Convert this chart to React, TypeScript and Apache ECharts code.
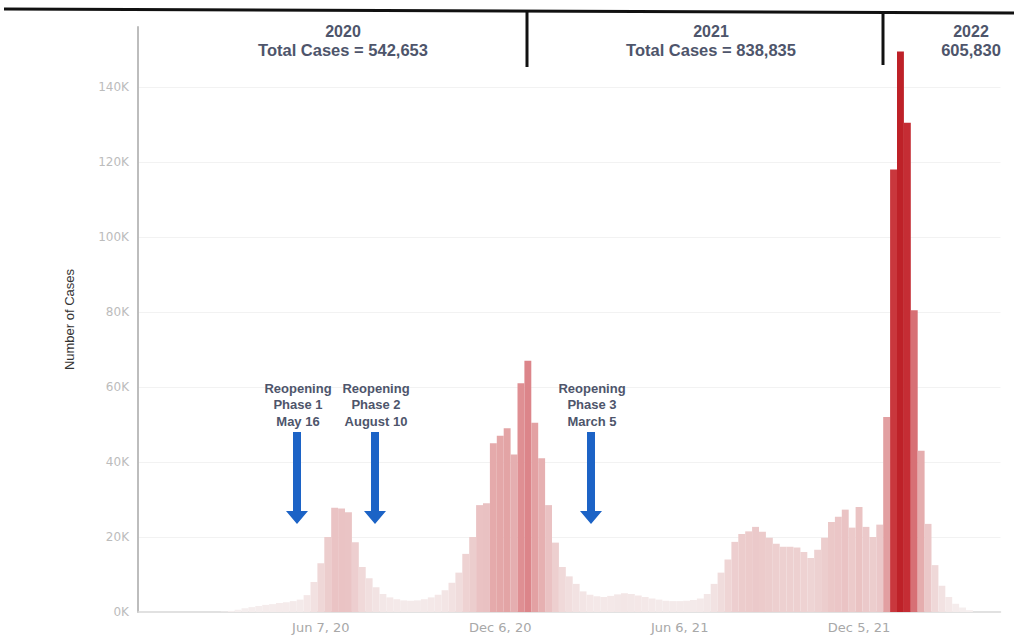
import React, { useEffect, useRef } from "react";
import * as echarts from "echarts";

// Weekly categories start on Sunday, Dec 8, 2019
const START_YEAR = 2019;
const START_MONTH = 11; // December (0-based)
const START_DAY = 8;
const MONTHS = ["Jan", "Feb", "Mar", "Apr", "May", "Jun", "Jul", "Aug", "Sep", "Oct", "Nov", "Dec"];

// Weekly new cases
const casesLead2019 = [0, 0, 0, 0];
const cases2020 = [
  0, 0, 0, 0, 0, 0, 0, 0, 100, 300, 600, 1000, 1300, 1600, 1900, 2100, 2400, 2600, 2900, 3300,
  4500, 8000, 13000, 20000, 27800, 27600, 26600, 18600, 12000, 9000, 6600, 4800, 3900, 3400, 3100, 3000,
  3100, 3400, 3900, 4600, 5800, 7800, 10500, 15500, 20000, 28500, 29000, 45000, 47000, 49000, 42000, 61000,
];
const cases2021 = [
  67000, 50500, 41000, 28500, 18500, 12000, 9500, 7500, 5500, 4600, 4200, 4000, 4300, 4700, 5000, 4800,
  4400, 4000, 3600, 3300, 3000, 2900, 2900, 3000, 3200, 3600, 4800, 7500, 10500, 14000, 18700, 20800,
  21500, 22700, 21400, 19800, 18200, 17400, 17400, 17200, 16000, 14400, 16600, 19800, 24000, 25400, 27300,
  22500, 28000, 22700, 20000, 23300,
];
const cases2022 = [52000, 118000, 149500, 130500, 80500, 43000, 23500, 12500, 7000, 4000, 2200, 1200, 500, 0, 0, 0, 0];

// Category indices that carry a tick label
const labelledWeeks = [26, 52, 78, 104];

// Y axis ticks
const yMin = 0;
const yMax = 156000;
const yInterval = 20000;

// Year header annotations
const yearNames = ["2020", "2021", "2022"];
const yearTotals = ["Total Cases = 542,653", "Total Cases = 838,835", "605,830"];
const yearCenters = [343, 711, 971];

// Reopening annotations
const reopenTexts = ["Reopening\nPhase 1\nMay 16", "Reopening\nPhase 2\nAugust 10", "Reopening\nPhase 3\nMarch 5"];
const reopenX = [297, 375, 591];

const allCases = [...casesLead2019, ...cases2020, ...cases2021, ...cases2022];

function weekLabel(i: number): string {
  const d = new Date(Date.UTC(START_YEAR, START_MONTH, START_DAY + 7 * i));
  return `${MONTHS[d.getUTCMonth()]} ${d.getUTCDate()}, ${String(d.getUTCFullYear()).slice(2)}`;
}
const categories = allCases.map((_, i) => weekLabel(i));

const colorStops: [number, number[]][] = [
  [0, [246, 240, 240]],
  [15000, [238, 211, 211]],
  [30000, [233, 192, 193]],
  [50000, [227, 162, 164]],
  [70000, [219, 128, 133]],
  [120000, [200, 52, 58]],
  [150000, [190, 33, 40]],
];
function barColor(v: number): string {
  for (let k = 1; k < colorStops.length; k++) {
    const [v1, c1] = colorStops[k];
    const [v0, c0] = colorStops[k - 1];
    if (v <= v1 || k === colorStops.length - 1) {
      const t = Math.max(0, Math.min(1, (v - v0) / (v1 - v0)));
      const c = c0.map((x, j) => Math.round(x + (c1[j] - x) * t));
      return `rgb(${c[0]},${c[1]},${c[2]})`;
    }
  }
  return "#ccc";
}

const FONT = "Liberation Sans, Arial, sans-serif";
const AXFONT = "DejaVu Sans, Verdana, sans-serif";
const ANNOT = "#4e556b";

function arrow(cx: number) {
  return {
    type: "polygon",
    shape: {
      points: [
        [cx - 4, 432], [cx + 4, 432], [cx + 4, 511], [cx + 11, 511],
        [cx, 524], [cx - 11, 511], [cx - 4, 511],
      ],
    },
    style: { fill: "#1c63c6" },
    z: 10,
  };
}

export default function App() {
  const ref = useRef<HTMLDivElement>(null);
  useEffect(() => {
    if (!ref.current) return;
    const chart = echarts.init(ref.current, null, { renderer: "svg" });
    const graphics: any[] = [
      { type: "line", shape: { x1: 4, y1: 9, x2: 1014, y2: 13 }, style: { stroke: "#111", lineWidth: 3 }, z: 10 },
      { type: "line", shape: { x1: 527, y1: 11, x2: 527, y2: 67 }, style: { stroke: "#111", lineWidth: 3 }, z: 10 },
      { type: "line", shape: { x1: 883, y1: 12, x2: 883, y2: 65 }, style: { stroke: "#111", lineWidth: 3 }, z: 10 },
    ];
    yearNames.forEach((name, k) => {
      graphics.push({
        type: "text", x: yearCenters[k], y: 31, z: 10,
        style: { text: name, fill: ANNOT, font: `bold 16px ${FONT}`, textAlign: "center", textVerticalAlign: "middle" },
      });
      graphics.push({
        type: "text", x: yearCenters[k], y: 50, z: 10,
        style: { text: yearTotals[k], fill: ANNOT, font: `bold 16.5px ${FONT}`, textAlign: "center", textVerticalAlign: "middle" },
      });
    });
    reopenTexts.forEach((t, k) => {
      graphics.push({
        type: "text", x: reopenX[k] + 1, y: 380, z: 10,
        style: { text: t, fill: ANNOT, font: `bold 13px ${FONT}`, textAlign: "center", textVerticalAlign: "top", lineHeight: 16.5 },
      });
      graphics.push(arrow(reopenX[k]));
    });

    chart.setOption({
      animation: false,
      backgroundColor: "#ffffff",
      textStyle: { fontFamily: FONT },
      grid: { left: 138, right: 13.5, top: 27, bottom: 23, containLabel: false },
      xAxis: {
        type: "category",
        data: categories,
        boundaryGap: true,
        axisLine: { show: true, lineStyle: { color: "#d8d8d8", width: 1.5 } },
        axisTick: { show: false },
        axisLabel: {
          interval: (idx: number) => labelledWeeks.includes(idx),
          color: "#a8a8a8",
          fontSize: 13,
          fontFamily: AXFONT,
          margin: 9,
        },
        splitLine: { show: false },
      },
      yAxis: {
        type: "value",
        min: yMin,
        max: yMax,
        interval: yInterval,
        name: "Number of Cases",
        nameLocation: "middle",
        nameGap: 62,
        nameTextStyle: { fontSize: 13, color: "#333", fontFamily: FONT },
        axisLine: { show: true, lineStyle: { color: "#bdbdbd", width: 2 } },
        axisTick: { show: false },
        axisLabel: {
          formatter: (v: number) => `${v / 1000}K`,
          color: "#bcbcbc",
          fontSize: 12,
          fontFamily: AXFONT,
          margin: 9,
          showMaxLabel: false,
        },
        splitLine: { show: true, showMaxLine: false, showMinLine: false, lineStyle: { color: "#f2f2f2", width: 1 } },
      },
      series: [
        {
          type: "bar",
          data: allCases,
          barCategoryGap: "0%",
          itemStyle: { color: (p: any) => barColor(p.value) },
          emphasis: { disabled: true },
        },
      ],
      graphic: graphics,
    });
    return () => chart.dispose();
  }, []);
  return <div ref={ref} style={{ position: "absolute", left: 0, top: 0, width: 1014, height: 635 }} />;
}
